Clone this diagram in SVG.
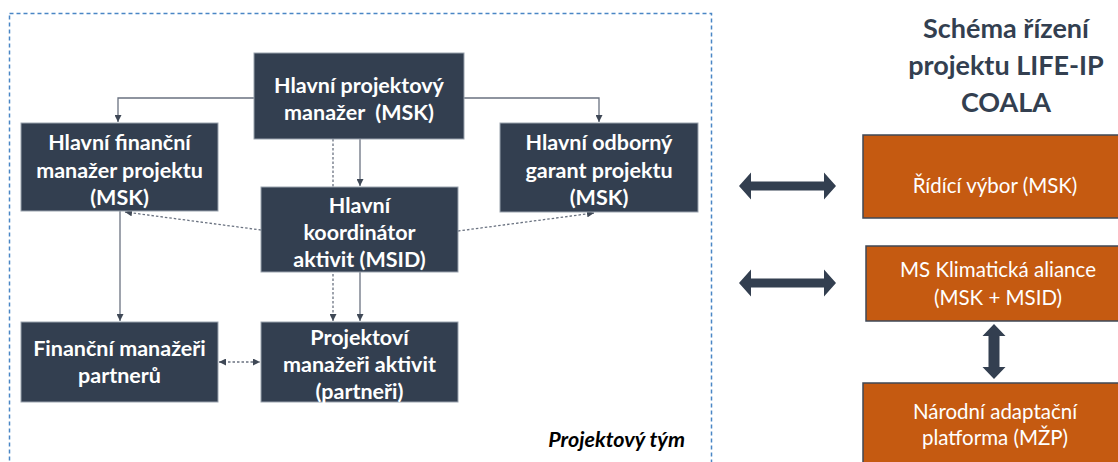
<svg xmlns="http://www.w3.org/2000/svg" width="1118" height="462" viewBox="0 0 1118 462">
<defs>
<style>
.node rect{fill:#333f50;stroke:#9aa3ae;stroke-width:1}
.node text{font-family:Lato,"Open Sans","Liberation Sans",sans-serif;font-weight:bold;font-size:21.5px;fill:#ffffff;text-anchor:middle}
.onode rect{fill:#c55a11;stroke:#3f4856;stroke-width:1.5}
.onode text{font-family:Lato,"Open Sans","Liberation Sans",sans-serif;font-size:20.5px;fill:#ffffff;text-anchor:middle}
.solid{fill:none;stroke:#6a7280;stroke-width:1.3}
.dot{fill:none;stroke:#6a7280;stroke-width:1.3;stroke-dasharray:2.5 2}
.big{fill:#333f50}
.title{font-family:Lato,"Open Sans","Liberation Sans",sans-serif;font-weight:bold;font-size:27px;fill:#333f50;text-anchor:middle}
</style>
<marker id="ah" viewBox="0 0 10 10" refX="10" refY="5" markerWidth="7" markerHeight="7" markerUnits="userSpaceOnUse" orient="auto-start-reverse">
<path d="M0,0 L10,5 L0,10 z" fill="#3f4856"/>
</marker>
</defs>
<rect x="9.5" y="13.5" width="702" height="470" fill="none" stroke="#4a86c5" stroke-width="1.5" stroke-dasharray="4 3"/>
<g id="connectors">
<path class="solid" d="M254,98 H118 V122" marker-end="url(#ah)"/>
<path class="solid" d="M464,98 H599 V122" marker-end="url(#ah)"/>
<path class="solid" d="M360,139 V186" marker-end="url(#ah)"/>
<path class="dot" d="M333,139 V321" marker-end="url(#ah)"/>
<path class="solid" d="M360,272 V321" marker-end="url(#ah)"/>
<path class="solid" d="M120,211 V321" marker-end="url(#ah)"/>
<path class="dot" d="M261,230 L125,212" marker-end="url(#ah)"/>
<path class="dot" d="M458,231 L594,213" marker-end="url(#ah)"/>
<path class="dot" d="M219,362 H260" marker-start="url(#ah)" marker-end="url(#ah)"/>
<polygon class="big" points="739,186 751,172.5 751,181.5 824,181.5 824,172.5 836,186 824,199.5 824,190.5 751,190.5 751,199.5"/>
<polygon class="big" points="739,283 751,269.5 751,278.5 824,278.5 824,269.5 836,283 824,296.5 824,287.5 751,287.5 751,296.5"/>
<polygon class="big" points="994,324 1005.5,336 999.5,336 999.5,367 1005.5,367 994,379 982.5,367 988.5,367 988.5,336 982.5,336"/>
</g>
<g id="n-hpm" class="node">
<rect x="254" y="53" width="210" height="86"/>
<text x="359" y="92.5">Hlavní projektový</text>
<text x="359" y="119.5">manažer&#160; (MSK)</text>
</g>
<g id="n-hfm" class="node">
<rect x="21" y="123" width="197" height="88"/>
<text x="119.5" y="149.5">Hlavní finanční</text>
<text x="119.5" y="177.5">manažer projektu</text>
<text x="119.5" y="204.5">(MSK)</text>
</g>
<g id="n-hog" class="node">
<rect x="500" y="123" width="198" height="89"/>
<text x="599" y="149.5">Hlavní odborný</text>
<text x="599" y="177.5">garant projektu</text>
<text x="599" y="204.5">(MSK)</text>
</g>
<g id="n-hka" class="node">
<rect x="261" y="187" width="197" height="85"/>
<text x="359.5" y="212.5">Hlavní</text>
<text x="359.5" y="239.5">koordinátor</text>
<text x="359.5" y="266.5">aktivit (MSID)</text>
</g>
<g id="n-fmp" class="node">
<rect x="21" y="322" width="197" height="80"/>
<text x="119.5" y="356">Finanční manažeři</text>
<text x="119.5" y="383">partnerů</text>
</g>
<g id="n-pma" class="node">
<rect x="261" y="322" width="197" height="80"/>
<text x="359.5" y="344.5">Projektoví</text>
<text x="359.5" y="371.5">manažeři aktivit</text>
<text x="359.5" y="398.5">(partneři)</text>
</g>
<text x="685" y="447" font-family="Lato,'Open Sans','Liberation Sans',sans-serif" font-weight="bold" font-style="italic" font-size="21.5" fill="#000000" text-anchor="end">Projektový tým</text>
<g id="title">
<text class="title" x="1006" y="37.5">Schéma řízení</text>
<text class="title" x="1006" y="74.5">projektu LIFE-IP</text>
<text class="title" x="1006" y="111.5">COALA</text>
</g>
<g id="n-rv" class="onode">
<rect x="863" y="135" width="264" height="83"/>
<text x="995" y="193">Řídící výbor (MSK)</text>
</g>
<g id="n-mska" class="onode">
<rect x="866" y="246" width="264" height="75"/>
<text x="998" y="277">MS Klimatická aliance</text>
<text x="998" y="305">(MSK + MSID)</text>
</g>
<g id="n-nap" class="onode">
<rect x="863" y="383" width="264" height="90"/>
<text x="995" y="419">Národní adaptační</text>
<text x="995" y="445">platforma (MŽP)</text>
</g>
</svg>
